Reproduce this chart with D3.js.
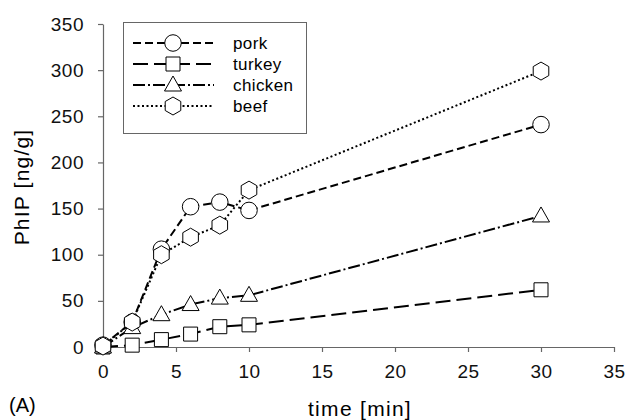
<!DOCTYPE html>
<html>
<head>
<meta charset="utf-8">
<script src="https://cdn.jsdelivr.net/npm/d3@7"></script>
<style>
  body { margin: 0; background: #fff; }
  text { font-family: "Liberation Sans", Arial, sans-serif; }
</style>
</head>
<body>
<div id="chart"></div>
<script>
// data
const times = [0, 2, 4, 6, 8, 10, 30];
const pork = [2, 27, 106, 152, 157, 148, 241];
const turkey = [0, 2, 8, 14, 22, 24, 62];
const chicken = [0, 21, 35, 46, 53, 56, 142];
const beef = [1, 27, 100, 119, 132, 170, 299];
const seriesNames = ["pork", "turkey", "chicken", "beef"];
const xTicks = [0, 5, 10, 15, 20, 25, 30, 35];
const yTicks = [0, 50, 100, 150, 200, 250, 300, 350];

const width = 628, height = 420;
const margin = { top: 24, right: 14, bottom: 73, left: 103 };

const svg = d3.select("#chart").append("svg")
  .attr("width", width)
  .attr("height", height);

const x = d3.scaleLinear().domain([0, 35]).range([margin.left, width - margin.right]);
const y = d3.scaleLinear().domain([0, 350]).range([height - margin.bottom, margin.top]);

const series = [
  { name: "pork", values: pork, dash: "8,4", shape: "circle" },
  { name: "turkey", values: turkey, dash: "15,6", shape: "square" },
  { name: "chicken", values: chicken, dash: "12,3,2,3", shape: "triangle" },
  { name: "beef", values: beef, dash: "2,2.5", shape: "hexagon" }
];

// axes
const xAxis = svg.append("g")
  .attr("transform", `translate(0,${y(0)})`)
  .call(d3.axisBottom(x).tickValues(xTicks).tickSize(5).tickSizeOuter(0).tickPadding(10));
const yAxis = svg.append("g")
  .attr("transform", `translate(${x(0)},0)`)
  .call(d3.axisLeft(y).tickValues(yTicks).tickSize(5).tickSizeOuter(0).tickPadding(14));

[xAxis, yAxis].forEach(a => {
  a.selectAll("path, line").attr("stroke", "#666").attr("stroke-width", 1.2);
  a.selectAll("text").attr("font-size", 19).attr("fill", "#111")
    .attr("letter-spacing", 0.5)
    .style("font-family", "'Liberation Sans', Arial, sans-serif");
});
xAxis.selectAll("text").attr("dy", "0.85em");

// axis titles
svg.append("text")
  .attr("x", 360).attr("y", 416)
  .attr("text-anchor", "middle")
  .attr("font-size", 21)
  .attr("letter-spacing", 1.3)
  .text("time [min]");
svg.append("text")
  .attr("transform", `translate(29,187) rotate(-90)`)
  .attr("text-anchor", "middle")
  .attr("font-size", 21)
  .attr("letter-spacing", 1.2)
  .text("PhIP [ng/g]");
svg.append("text")
  .attr("x", 9).attr("y", 412)
  .attr("font-size", 20)
  .text("(A)");

function markerPath(shape) {
  if (shape === "circle") return d3.symbol(d3.symbolCircle, 215)();
  if (shape === "square") return "M-7,-7H7V7H-7Z";
  if (shape === "triangle") return "M0,-9L8.5,6L-8.5,6Z";
  // pointy-top hexagon
  const r = 9;
  return d3.range(6).map(i => {
    const a = Math.PI / 3 * i - Math.PI / 2;
    return (i ? "L" : "M") + (r * Math.cos(a)).toFixed(2) + "," + (r * Math.sin(a)).toFixed(2);
  }).join("") + "Z";
}

const line = d3.line().x(d => x(d.t)).y(d => y(d.v));

// draw lines first, then markers
series.forEach(s => {
  const pts = times.map((t, i) => ({ t: t, v: s.values[i] }));
  svg.append("path")
    .datum(pts)
    .attr("d", line)
    .attr("fill", "none")
    .attr("stroke", "#000")
    .attr("stroke-width", 2)
    .attr("stroke-dasharray", s.dash);
});

series.forEach(s => {
  const pts = times.map((t, i) => ({ t: t, v: s.values[i] }));
  svg.selectAll(".m-" + s.name)
    .data(pts)
    .enter()
    .append("path")
    .attr("class", "m-" + s.name)
    .attr("transform", d => `translate(${x(d.t)},${y(d.v)})`)
    .attr("d", markerPath(s.shape))
    .attr("fill", "#fff")
    .attr("stroke", "#000")
    .attr("stroke-width", 1);
});

// legend
const legend = svg.append("g");
legend.append("rect")
  .attr("x", 123.5).attr("y", 22.5)
  .attr("width", 183).attr("height", 111)
  .attr("fill", "#fff")
  .attr("stroke", "#666")
  .attr("stroke-width", 1);

series.forEach((s, i) => {
  const ly = 43 + i * 21;
  legend.append("line")
    .attr("x1", 133).attr("x2", 214)
    .attr("y1", ly).attr("y2", ly)
    .attr("stroke", "#000").attr("stroke-width", 2)
    .attr("stroke-dasharray", s.dash);
  legend.append("path")
    .attr("transform", `translate(173,${ly})`)
    .attr("d", markerPath(s.shape))
    .attr("fill", "#fff").attr("stroke", "#000").attr("stroke-width", 1);
  legend.append("text")
    .attr("x", 233).attr("y", ly + 5.5)
    .attr("font-size", 17)
    .attr("letter-spacing", 0.4)
    .text(seriesNames[i]);
});
</script>
</body>
</html>
